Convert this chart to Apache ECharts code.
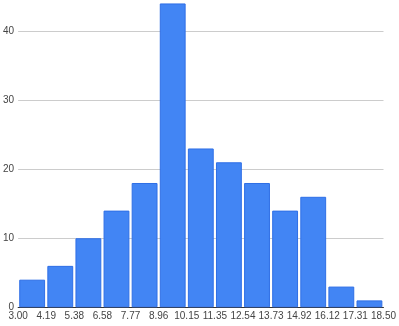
<!DOCTYPE html>
<html><head><meta charset="utf-8">
<style>html,body{margin:0;padding:0;background:#fff}#c{width:399px;height:326px}</style>
<script src="https://cdn.jsdelivr.net/npm/echarts@6/dist/echarts.min.js"></script>
</head><body><div id="c"></div>
<script>
const binEdges = ['3.00','4.19','5.38','6.58','7.77','8.96','10.15','11.35','12.54','13.73','14.92','16.12','17.31','18.50'];
const bins = ['b1','b2','b3','b4','b5','b6','b7','b8','b9','b10','b11','b12','b13'];
const counts = [4, 6, 10, 14, 18, 44, 23, 21, 18, 14, 16, 3, 1];

const chart = echarts.init(document.getElementById('c'), null, {renderer:'canvas'});
chart.setOption({
  animation: false,
  grid: {left: 18, right: 12, top: 0, bottom: 18.7, containLabel: false},
  xAxis: [
    {type: 'category', data: bins, axisLine: {show: false}, axisTick: {show: false}, axisLabel: {show: false}},
    {type: 'category', data: binEdges, boundaryGap: false, position: 'bottom',
     axisLine: {show: true, onZero: false, lineStyle: {color: '#333', width: 1}},
     axisTick: {show: false},
     axisLabel: {color: '#444', fontSize: 10, margin: 4, fontFamily: 'Arial, Liberation Sans, sans-serif', interval: 0, showMinLabel: true, showMaxLabel: true}}
  ],
  yAxis: {type: 'value', min: 0, max: 44.5, interval: 10,
    axisLine: {show: false}, axisTick: {show: false},
    axisLabel: {color: '#444', fontSize: 10, margin: 4, fontFamily: 'Arial, Liberation Sans, sans-serif', showMaxLabel: false},
    splitLine: {showMaxLine: false, lineStyle: {color: '#cccccc', width: 1}}},
  series: [{type: 'bar', xAxisIndex: 0, data: counts, barCategoryGap: '8%',
    itemStyle: {color: '#4285f4', borderColor: '#2f6fe6', borderWidth: 1}}]
});
</script></body></html>
